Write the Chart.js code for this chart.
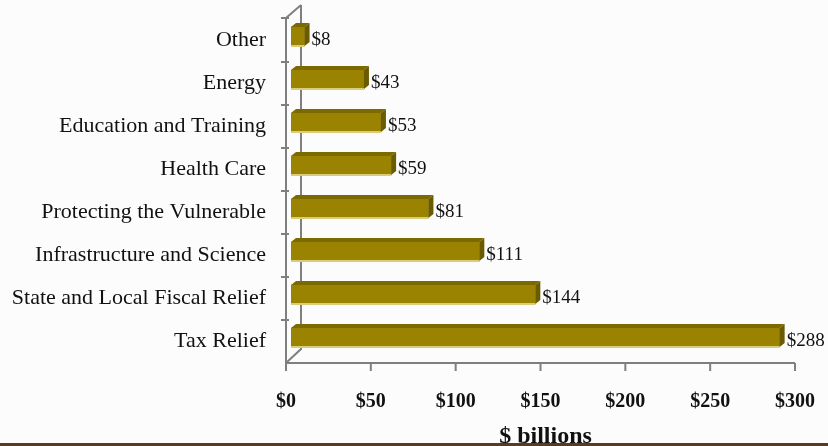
<!DOCTYPE html>
<html>
<head>
<meta charset="utf-8">
<script src="https://cdn.jsdelivr.net/npm/chart.js@4.4.1/dist/chart.umd.min.js"></script>
<style>
  html, body { margin: 0; padding: 0; background: #fcfcfc; }
  #wrap { width: 828px; height: 446px; position: relative; }
</style>
</head>
<body>
<div id="wrap"><canvas id="stimulusChart"></canvas></div>
<script>
// ==========================================
// Chart data
// ==========================================
const categories = [
    'Other',
    'Energy',
    'Education and Training',
    'Health Care',
    'Protecting the Vulnerable',
    'Infrastructure and Science',
    'State and Local Fiscal Relief',
    'Tax Relief'
];
const amounts = [8, 43, 53, 59, 81, 111, 144, 288];
const xTicks = [0, 50, 100, 150, 200, 250, 300];
const axisTitle = '$ billions';

const FONT = "'Liberation Serif', 'DejaVu Serif', serif";
const BAR_FACE = '#9a8300';
const BAR_TOP = '#7c6a00';
const BAR_SIDE = '#6a5a00';
const BAR_EDGE = '#d9cd7c';
const AXIS_GRAY = '#7f7f7f';
const DEPTH = 5;      // bar depth in px
const FRONT_DX = -5;  // front plane offset from the bar plane
const FRONT_DY = 4;

// Draw the 3D box axes (walls, front axis lines, ticks) behind the bars
const boxAxesPlugin = {
    id: 'boxAxes',
    beforeDatasetsDraw(chart) {
        const ctx = chart.ctx;
        const area = chart.chartArea;
        const xs = chart.scales.x;
        const ys = chart.scales.y;
        const fx = area.left + FRONT_DX;     // front vertical line
        const fb = area.bottom + FRONT_DY;   // front floor line
        const ft = area.top + 3;
        const bx = fx + 15;                  // back wall line
        const bb = fb - 14;
        const bt = ft - 13;

        ctx.save();
        ctx.strokeStyle = AXIS_GRAY;
        ctx.lineWidth = 2;
        ctx.beginPath();
        // back wall edge
        ctx.moveTo(bx, bt);
        ctx.lineTo(bx, bb);
        ctx.lineTo(fx, fb);
        // top diagonal
        ctx.moveTo(fx, ft);
        ctx.lineTo(bx, bt);
        // front vertical
        ctx.moveTo(fx, ft);
        ctx.lineTo(fx, fb);
        // floor front line
        ctx.moveTo(fx, fb);
        ctx.lineTo(xs.getPixelForValue(xTicks[xTicks.length - 1]) + FRONT_DX, fb);
        ctx.stroke();

        // category ticks on the front vertical
        ctx.beginPath();
        ctx.moveTo(fx - 5, ft);
        ctx.lineTo(fx + 3, ft);
        const step = ys.getPixelForValue(1) - ys.getPixelForValue(0);
        for (let i = 0; i < categories.length - 1; i++) {
            const yb = ys.getPixelForValue(i) + step / 2 + FRONT_DY;
            ctx.moveTo(fx - 5, yb);
            ctx.lineTo(fx + 3, yb);
        }
        // value ticks under the floor
        xTicks.forEach(v => {
            const px = xs.getPixelForValue(v) + FRONT_DX;
            ctx.moveTo(px, fb);
            ctx.lineTo(px, fb + 8);
        });
        ctx.stroke();
        ctx.restore();
    }
};

// Add top and side faces to bars, plus value labels
const bar3dPlugin = {
    id: 'bar3d',
    afterDatasetsDraw(chart) {
        const ctx = chart.ctx;
        const meta = chart.getDatasetMeta(0);
        ctx.save();
        meta.data.forEach((bar, i) => {
            const p = bar.getProps(['x', 'y', 'base', 'height'], true);
            const top = p.y - p.height / 2;
            const bottom = p.y + p.height / 2;
            const left = p.base;
            const right = p.x;

            // top face
            ctx.fillStyle = BAR_TOP;
            ctx.beginPath();
            ctx.moveTo(left, top);
            ctx.lineTo(left + DEPTH, top - DEPTH + 1);
            ctx.lineTo(right + DEPTH, top - DEPTH + 1);
            ctx.lineTo(right, top);
            ctx.closePath();
            ctx.fill();

            // right face
            ctx.fillStyle = BAR_SIDE;
            ctx.beginPath();
            ctx.moveTo(right, top);
            ctx.lineTo(right + DEPTH, top - DEPTH + 1);
            ctx.lineTo(right + DEPTH, bottom - DEPTH + 1);
            ctx.lineTo(right, bottom);
            ctx.closePath();
            ctx.fill();

            // light lower edge
            ctx.fillStyle = BAR_EDGE;
            ctx.fillRect(left, bottom - 1, right - left, 2);

            // value label
            ctx.fillStyle = '#111';
            ctx.font = `19px ${FONT}`;
            ctx.textAlign = 'left';
            ctx.textBaseline = 'middle';
            ctx.fillText('$' + amounts[i], right + DEPTH + 2, p.y + 4);
        });
        ctx.restore();
    },
    afterDraw(chart) {
        // brown rule along the bottom edge
        const ctx = chart.ctx;
        ctx.save();
        ctx.fillStyle = '#5b3b1d';
        ctx.fillRect(0, chart.height - 3, chart.width, 3);
        ctx.restore();
    }
};

new Chart(document.getElementById('stimulusChart'), {
    type: 'bar',
    data: {
        labels: categories,
        datasets: [{
            data: amounts,
            backgroundColor: BAR_FACE,
            borderWidth: 0,
            barThickness: 19
        }]
    },
    options: {
        indexAxis: 'y',
        responsive: true,
        maintainAspectRatio: false,
        animation: false,
        layout: { padding: { top: 15, right: 28, left: 0, bottom: 0 } },
        plugins: {
            legend: { display: false },
            tooltip: { enabled: false }
        },
        scales: {
            x: {
                min: xTicks[0],
                max: xTicks[xTicks.length - 1],
                afterBuildTicks(scale) {
                    scale.ticks = xTicks.map(v => ({ value: v }));
                },
                afterFit(scale) {
                    scale.height = 87;
                    scale.paddingLeft = 0;
                    scale.paddingRight = 0;
                },
                grid: { display: false },
                border: { display: false },
                ticks: {
                    padding: 23,
                    labelOffset: FRONT_DX,
                    color: '#111',
                    font: { family: FONT, size: 20, weight: 'bold' },
                    callback: v => '$' + v
                },
                title: {
                    display: true,
                    text: axisTitle,
                    color: '#111',
                    padding: { top: 0, bottom: 0 },
                    font: { family: FONT, size: 24, weight: 'bold', lineHeight: 0.8 }
                }
            },
            y: {
                afterFit(scale) {
                    scale.width = 291;
                    scale.paddingTop = 0;
                    scale.paddingBottom = 0;
                },
                grid: { display: false },
                border: { display: false },
                ticks: {
                    padding: 17,
                    labelOffset: 4,
                    color: '#111',
                    font: { family: FONT, size: 22 }
                }
            }
        }
    },
    plugins: [boxAxesPlugin, bar3dPlugin]
});
</script>
</body>
</html>
